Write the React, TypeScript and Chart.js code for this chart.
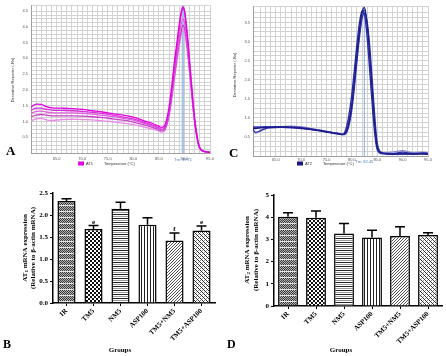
import React, { useEffect, useRef } from 'react';
import { Chart, registerables } from 'chart.js';
Chart.register(...registerables);

// ---------- Panel A: AT1 melt curves ----------
const tempsA = [60, 61, 62, 63, 64, 66, 68, 70, 72, 74, 76, 78, 80, 82, 84, 85, 85.5, 86, 86.5, 87, 87.5, 88, 88.5, 89, 89.4, 89.7, 90, 90.5, 91, 91.5, 92, 92.5, 93, 94, 95];
const meltA1 = [1.45, 1.55, 1.54, 1.47, 1.43, 1.42, 1.41, 1.38, 1.34, 1.30, 1.25, 1.20, 1.14, 1.03, 0.92, 0.85, 0.81, 0.84, 1.05, 1.46, 2.10, 2.84, 3.47, 4.10, 4.50, 4.63, 4.50, 3.78, 2.84, 1.89, 1.04, 0.46, 0.15, 0.04, 0.02];
const meltA2 = [1.35, 1.42, 1.42, 1.38, 1.36, 1.35, 1.34, 1.32, 1.29, 1.25, 1.20, 1.14, 1.08, 0.98, 0.87, 0.80, 0.76, 0.78, 0.95, 1.32, 1.92, 2.62, 3.30, 3.95, 4.42, 4.58, 4.52, 3.90, 2.98, 2.00, 1.12, 0.52, 0.18, 0.05, 0.02];
const meltA3 = [1.26, 1.32, 1.33, 1.30, 1.28, 1.27, 1.27, 1.26, 1.23, 1.19, 1.15, 1.10, 1.04, 0.95, 0.84, 0.77, 0.73, 0.75, 0.92, 1.28, 1.85, 2.50, 3.12, 3.70, 4.10, 4.25, 4.15, 3.55, 2.70, 1.82, 1.02, 0.47, 0.16, 0.04, 0.02];
const meltA4 = [1.15, 1.20, 1.22, 1.20, 1.18, 1.18, 1.18, 1.17, 1.15, 1.12, 1.08, 1.04, 0.98, 0.90, 0.80, 0.74, 0.70, 0.72, 0.88, 1.22, 1.76, 2.38, 2.98, 3.52, 3.90, 4.05, 3.97, 3.42, 2.62, 1.78, 1.00, 0.46, 0.15, 0.04, 0.02];
const meltA5 = [1.02, 1.08, 1.10, 1.05, 1.03, 1.06, 1.07, 1.06, 1.05, 1.02, 0.99, 0.95, 0.90, 0.83, 0.75, 0.70, 0.66, 0.68, 0.84, 1.16, 1.68, 2.28, 2.86, 3.40, 3.76, 3.90, 3.84, 3.32, 2.55, 1.72, 0.96, 0.44, 0.14, 0.04, 0.02];
const colorsA = ['#e000e0', '#d830d8', '#e060e0', '#c840c8', '#e888e8'];
const tmA = 89.71;

// ---------- Panel C: AT2 melt curves ----------
const tempsC = [60.5, 61, 62, 63, 64, 66, 68, 70, 72, 74, 76, 77, 78, 78.5, 79, 79.5, 80, 80.5, 81, 81.5, 82, 82.5, 83, 83.5, 84, 84.5, 85, 86, 88, 90, 92, 94, 95];
const meltC1 = [0.73, 0.72, 0.74, 0.75, 0.75, 0.76, 0.75, 0.73, 0.70, 0.66, 0.61, 0.59, 0.56, 0.57, 0.68, 0.94, 1.38, 1.99, 2.69, 3.30, 3.78, 3.89, 3.47, 2.69, 1.73, 0.86, 0.24, 0.07, 0.05, 0.06, 0.05, 0.06, 0.05];
const meltC2 = [0.70, 0.62, 0.66, 0.72, 0.74, 0.75, 0.74, 0.72, 0.69, 0.65, 0.60, 0.58, 0.56, 0.60, 0.80, 1.15, 1.65, 2.28, 2.95, 3.50, 3.80, 3.70, 3.10, 2.25, 1.35, 0.58, 0.16, 0.06, 0.06, 0.10, 0.06, 0.08, 0.07];
const meltC3 = [0.76, 0.76, 0.76, 0.77, 0.77, 0.77, 0.76, 0.74, 0.71, 0.67, 0.62, 0.60, 0.57, 0.56, 0.62, 0.84, 1.22, 1.80, 2.48, 3.12, 3.60, 3.75, 3.52, 2.90, 2.00, 1.05, 0.34, 0.09, 0.06, 0.05, 0.07, 0.05, 0.04];
const meltC4 = [0.66, 0.60, 0.68, 0.74, 0.76, 0.77, 0.78, 0.77, 0.72, 0.67, 0.62, 0.60, 0.58, 0.58, 0.72, 1.02, 1.50, 2.12, 2.82, 3.40, 3.72, 3.68, 3.25, 2.45, 1.50, 0.70, 0.20, 0.08, 0.10, 0.14, 0.09, 0.10, 0.08];
const meltC5 = [0.74, 0.73, 0.75, 0.76, 0.76, 0.76, 0.75, 0.73, 0.70, 0.66, 0.62, 0.60, 0.57, 0.58, 0.66, 0.90, 1.32, 1.92, 2.60, 3.22, 3.70, 3.82, 3.40, 2.62, 1.66, 0.80, 0.22, 0.07, 0.05, 0.05, 0.05, 0.06, 0.05];
const colorsC = ['#1a1a8a', '#2c2ca0', '#3838b0', '#8c8cd0', '#23238f'];
const tmC = 82.45;

// ---------- Panels B & D: bar charts ----------
const groups = ['IR', 'TM5', 'NM5', 'ASP100', 'TM5+NM5', 'TM5+ASP100'];
const at1Mean = [2.32, 1.68, 2.14, 1.78, 1.42, 1.65];
const at1Err = [0.05, 0.08, 0.15, 0.16, 0.17, 0.10];
const at1Sig = ['', 'e', '', '', 'f', 'e'];
const at1Ticks = [0, 0.5, 1.0, 1.5, 2.0, 2.5];
const at2Mean = [4.02, 3.98, 3.27, 3.09, 3.15, 3.20];
const at2Err = [0.18, 0.30, 0.45, 0.32, 0.42, 0.10];
const at2Sig = ['', '', '', '', '', ''];
const at2Ticks = [0, 1, 2, 3, 4, 5];
const patternKinds = ['ir', 'tm5', 'nm5', 'asp', 'tmnm', 'tmasp'];

const SERIF = '"Liberation Serif", "Times New Roman", serif';
const SANS = '"Liberation Sans", Arial, sans-serif';

function makePattern(ctx: CanvasRenderingContext2D, kind: string) {
  const t = document.createElement('canvas');
  const c = t.getContext('2d') as CanvasRenderingContext2D;
  const px = (x: number, y: number, col: string) => { c.fillStyle = col; c.fillRect(x, y, 1, 1); };
  const fill = (w: number, h: number, col: string) => { t.width = w; t.height = h; c.fillStyle = col; c.fillRect(0, 0, w, h); };
  if (kind === 'ir') {
    fill(4, 6, '#b4b4b4');
    for (let y = 0; y < 5; y++) for (let x = 0; x < 4; x++) if ((x + y) % 2 === 0) px(x, y, '#3a3a3a');
    for (let x = 0; x < 4; x++) px(x, 5, '#e6e6e6');
  } else if (kind === 'tm5') {
    fill(4, 4, '#ffffff');
    c.fillStyle = '#111'; c.fillRect(0, 0, 2, 2); c.fillRect(2, 2, 2, 2);
  } else if (kind === 'nm5') {
    fill(2, 4, '#ffffff');
    px(0, 0, '#222'); px(1, 0, '#222'); px(0, 2, '#999'); px(1, 2, '#999');
  } else if (kind === 'asp') {
    fill(3, 2, '#ffffff');
    px(0, 0, '#222'); px(0, 1, '#222');
  } else if (kind === 'tmnm') {
    fill(3, 3, '#ffffff');
    px(2, 0, '#555'); px(1, 1, '#555'); px(0, 2, '#555');
  } else {
    fill(4, 4, '#ffffff');
    px(0, 0, '#333'); px(1, 1, '#333'); px(2, 2, '#333'); px(3, 3, '#333');
    px(2, 0, '#999'); px(0, 2, '#999');
  }
  return ctx.createPattern(t, 'repeat');
}

function ChartBox({ left, top, width, height, make }: any) {
  const ref = useRef<HTMLCanvasElement | null>(null);
  useEffect(() => {
    const canvas = ref.current as HTMLCanvasElement;
    const chart = new Chart(canvas, make(canvas));
    return () => chart.destroy();
  }, []);
  return (
    <div style={{ position: 'absolute', left, top, width, height }}>
      <canvas ref={ref} width={width} height={height} style={{ width, height, display: 'block' }} />
    </div>
  );
}

function meltConfig(o: any) {
  const datasets = o.series.map((s: number[], i: number) => ({
    data: o.temps.map((t: number, j: number) => ({ x: t, y: s[j] })),
    borderColor: o.colors[i],
    borderWidth: 1.3,
    pointRadius: 0,
    fill: false,
    cubicInterpolationMode: 'monotone',
  }));
  const decor = {
    id: 'meltDecor',
    beforeDatasetsDraw(chart: any) {
      const { ctx, chartArea: a, scales } = chart;
      const px = scales.x.getPixelForValue(o.tm);
      ctx.save();
      ctx.strokeStyle = o.tmColor;
      ctx.lineWidth = o.tmWidth;
      ctx.beginPath();
      ctx.moveTo(px, a.top);
      ctx.lineTo(px, a.bottom);
      ctx.stroke();
      ctx.restore();
    },
    afterDraw(chart: any) {
      const { ctx, scales } = chart;
      ctx.save();
      ctx.font = `4px ${SANS}`;
      ctx.textBaseline = 'middle';
      ctx.textAlign = 'center';
      ctx.fillStyle = '#4a78c0';
      ctx.fillText('Tm: ' + o.tm.toFixed(2), scales.x.getPixelForValue(o.tm), o.tmY);
      ctx.fillStyle = o.legendColor;
      ctx.fillRect(o.legendX, o.legendY - 2, 6, 4);
      ctx.fillStyle = '#333';
      ctx.textAlign = 'left';
      ctx.fillText(o.legendText, o.legendX + 8, o.legendY);
      ctx.fillText('Temperature (°C)', o.titleX, o.legendY);
      ctx.save();
      ctx.translate(o.yTitleX, o.yTitleY);
      ctx.rotate(-Math.PI / 2);
      ctx.textAlign = 'center';
      ctx.fillText('Derivative Reporter (-Rn)', 0, 0);
      ctx.restore();
      ctx.fillStyle = '#000';
      ctx.font = `bold 13px ${SERIF}`;
      ctx.textAlign = 'left';
      ctx.textBaseline = 'alphabetic';
      ctx.fillText(o.letter, o.letterX, o.letterY);
      ctx.restore();
    },
  };
  return {
    type: 'line',
    data: { datasets },
    plugins: [decor],
    options: {
      animation: false,
      responsive: false,
      maintainAspectRatio: false,
      layout: { padding: { left: 0, right: o.padRight, top: o.padTop, bottom: 0 } },
      plugins: { legend: { display: false }, tooltip: { enabled: false } },
      scales: {
        x: {
          type: 'linear',
          min: o.xMin,
          max: 95,
          afterFit: (s: any) => { s.height = o.xAxisH; },
          ticks: {
            stepSize: 1,
            autoSkip: false,
            maxRotation: 0,
            padding: o.xTickPad,
            color: '#555',
            font: { size: 4, family: SANS },
            callback: (v: number) => (Math.abs(v % 5) < 1e-6 && v >= 65 ? v.toFixed(1) : ''),
          },
          grid: { color: '#d2d2d2', lineWidth: 1, drawTicks: false },
          border: { color: '#a0a0a0' },
        },
        y: {
          min: 0,
          max: o.yMax,
          afterFit: (s: any) => { s.width = o.yAxisW; },
          ticks: {
            stepSize: 0.125,
            autoSkip: false,
            padding: 3,
            color: '#555',
            font: { size: 4, family: SANS },
            callback: (v: number) => {
              const d = v * 2;
              return v > 0 && Math.abs(d - Math.round(d)) < 1e-6 ? v.toFixed(1) : '';
            },
          },
          grid: { color: '#d2d2d2', lineWidth: 1, drawTicks: false },
          border: { color: '#a0a0a0' },
        },
      },
    },
  };
}

function barConfig(canvas: HTMLCanvasElement, o: any) {
  const ctx0 = canvas.getContext('2d') as CanvasRenderingContext2D;
  const patterns = patternKinds.map((k) => makePattern(ctx0, k));
  const decor = {
    id: 'barDecor',
    afterDatasetsDraw(chart: any) {
      const { ctx, scales } = chart;
      const meta = chart.getDatasetMeta(0);
      ctx.save();
      ctx.strokeStyle = '#000';
      ctx.fillStyle = '#000';
      ctx.lineWidth = 1.5;
      meta.data.forEach((bar: any, i: number) => {
        const top = scales.y.getPixelForValue(o.means[i]);
        const e = scales.y.getPixelForValue(o.means[i] + o.errs[i]);
        ctx.beginPath();
        ctx.moveTo(bar.x, top);
        ctx.lineTo(bar.x, e);
        ctx.moveTo(bar.x - 5, e);
        ctx.lineTo(bar.x + 5, e);
        ctx.stroke();
        if (o.sig[i]) {
          ctx.font = `bold 7px ${SERIF}`;
          ctx.textAlign = 'center';
          ctx.textBaseline = 'alphabetic';
          ctx.fillText(o.sig[i], bar.x, e - 2);
        }
      });
      ctx.restore();
    },
    afterDraw(chart: any) {
      const { ctx } = chart;
      ctx.save();
      ctx.fillStyle = '#000';
      const f = `bold 7px ${SERIF}`;
      const fs = `bold 5px ${SERIF}`;
      ctx.save();
      ctx.translate(o.t1X, o.tY);
      ctx.rotate(-Math.PI / 2);
      ctx.textBaseline = 'middle';
      ctx.textAlign = 'left';
      ctx.font = f;
      const w1 = ctx.measureText('AT').width;
      const w3 = ctx.measureText(' mRNA expression').width;
      ctx.font = fs;
      const w2 = ctx.measureText(o.sub).width;
      let sx = -(w1 + w2 + w3) / 2;
      ctx.font = f;
      ctx.fillText('AT', sx, 0);
      sx += w1;
      ctx.font = fs;
      ctx.fillText(o.sub, sx, 2);
      sx += w2;
      ctx.font = f;
      ctx.fillText(' mRNA expression', sx, 0);
      ctx.restore();
      ctx.save();
      ctx.translate(o.t2X, o.tY);
      ctx.rotate(-Math.PI / 2);
      ctx.textBaseline = 'middle';
      ctx.textAlign = 'center';
      ctx.font = f;
      ctx.fillText('(Relative to β-actin mRNA)', 0, 0);
      ctx.restore();
      ctx.font = `bold 7px ${SERIF}`;
      ctx.textAlign = 'center';
      ctx.textBaseline = 'middle';
      ctx.fillText('Groups', o.groupsX, o.groupsY);
      ctx.font = `bold 12px ${SERIF}`;
      ctx.textAlign = 'left';
      ctx.textBaseline = 'alphabetic';
      ctx.fillText(o.letter, o.letterX, o.letterY);
      ctx.restore();
    },
  };
  return {
    type: 'bar',
    data: {
      labels: groups,
      datasets: [
        {
          data: o.means,
          backgroundColor: patterns,
          borderColor: '#000',
          borderWidth: 1.5,
          categoryPercentage: 1,
          barPercentage: o.barPct,
        },
      ],
    },
    plugins: [decor],
    options: {
      animation: false,
      responsive: false,
      maintainAspectRatio: false,
      layout: { padding: { left: 0, right: o.padRight, top: o.padTop, bottom: 0 } },
      plugins: { legend: { display: false }, tooltip: { enabled: false } },
      scales: {
        x: {
          afterFit: (s: any) => { s.height = o.xAxisH; },
          ticks: {
            autoSkip: false,
            minRotation: 45,
            maxRotation: 45,
            padding: 1,
            color: '#000',
            font: { size: 7, weight: 'bold', family: SERIF },
          },
          grid: { offset: false, drawOnChartArea: false, color: '#000', lineWidth: 1, tickLength: 3 },
          border: { color: '#000', width: 1.5 },
        },
        y: {
          min: 0,
          max: o.ticks[o.ticks.length - 1],
          afterFit: (s: any) => { s.width = o.yAxisW; },
          afterBuildTicks: (s: any) => { s.ticks = o.ticks.map((v: number) => ({ value: v })); },
          ticks: {
            padding: 2,
            color: '#000',
            font: { size: 7, weight: 'bold', family: SERIF },
            callback: (v: number) => v.toFixed(o.decimals),
          },
          grid: { drawOnChartArea: false, color: '#000', lineWidth: 1, tickLength: 3 },
          border: { color: '#000', width: 1.5 },
        },
      },
    },
  };
}

export default function App() {
  return (
    <div style={{ position: 'absolute', left: 0, top: 0, width: 446, height: 356, background: '#fff', overflow: 'hidden' }}>
      <ChartBox
        left={0}
        top={0}
        width={223}
        height={170}
        make={() =>
          meltConfig({
            temps: tempsA,
            series: [meltA1, meltA2, meltA3, meltA4, meltA5],
            colors: colorsA,
            xMin: 60,
            yMax: 4.68,
            tm: tmA,
            tmColor: 'rgba(160,190,225,0.9)',
            tmWidth: 2.5,
            tmY: 160,
            padRight: 13,
            padTop: 5,
            xAxisH: 17,
            yAxisW: 31,
            xTickPad: 3,
            legendX: 78,
            legendY: 163.5,
            legendColor: '#e000e0',
            legendText: 'AT1',
            titleX: 104,
            yTitleX: 13,
            yTitleY: 80,
            letter: 'A',
            letterX: 6,
            letterY: 155,
          })
        }
      />
      <ChartBox
        left={223}
        top={0}
        width={223}
        height={170}
        make={() =>
          meltConfig({
            temps: tempsC,
            series: [meltC1, meltC2, meltC3, meltC4, meltC5],
            colors: colorsC,
            xMin: 60.5,
            yMax: 3.93,
            tm: tmC,
            tmColor: '#8fb0e0',
            tmWidth: 1,
            tmY: 161.5,
            padRight: 18,
            padTop: 6,
            xAxisH: 14,
            yAxisW: 30,
            xTickPad: 1,
            legendX: 74,
            legendY: 163.5,
            legendColor: '#1a1a80',
            legendText: 'AT2',
            titleX: 100,
            yTitleX: 12,
            yTitleY: 75,
            letter: 'C',
            letterX: 6,
            letterY: 157,
          })
        }
      />
      <ChartBox
        left={0}
        top={170}
        width={223}
        height={186}
        make={(c: HTMLCanvasElement) =>
          barConfig(c, {
            means: at1Mean,
            errs: at1Err,
            sig: at1Sig,
            ticks: at1Ticks,
            decimals: 1,
            barPct: 0.67,
            padRight: 8,
            padTop: 23,
            xAxisH: 53,
            yAxisW: 53,
            sub: '1',
            t1X: 25,
            t2X: 33,
            tY: 78,
            groupsX: 120,
            groupsY: 180,
            letter: 'B',
            letterX: 3,
            letterY: 178,
          })
        }
      />
      <ChartBox
        left={223}
        top={170}
        width={223}
        height={186}
        make={(c: HTMLCanvasElement) =>
          barConfig(c, {
            means: at2Mean,
            errs: at2Err,
            sig: at2Sig,
            ticks: at2Ticks,
            decimals: 0,
            barPct: 0.71,
            padRight: 4,
            padTop: 25,
            xAxisH: 50,
            yAxisW: 51,
            sub: '2',
            t1X: 24,
            t2X: 33,
            tY: 80,
            groupsX: 118,
            groupsY: 180,
            letter: 'D',
            letterX: 4,
            letterY: 178,
          })
        }
      />
    </div>
  );
}
